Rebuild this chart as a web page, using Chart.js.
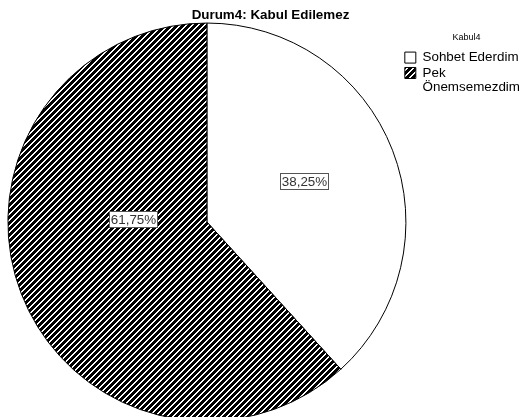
<!DOCTYPE html>
<html>
<head>
<meta charset="utf-8">
<script src="https://cdn.jsdelivr.net/npm/chart.js@4.4.1/dist/chart.umd.min.js"></script>
<style>
  html, body { margin: 0; padding: 0; background: #fff; overflow: hidden; }
  #wrap { width: 529px; height: 417px; overflow: hidden; }
  canvas { display: block; }
</style>
</head>
<body>
<div id="wrap"><canvas id="pieChart" width="540" height="421"></canvas></div>
<script>
const chartTitle = "Durum4: Kabul Edilemez";
const legendTitle = "Kabul4";
const categories = ["Sohbet Ederdim", "Pek Önemsemezdim"];
const percents = [38.25, 61.75];

const FONT = "Arial, 'Liberation Sans', sans-serif";

// black/white diagonal hatch, like the SPSS fill
function makeHatch() {
  const size = 6;
  const tile = document.createElement("canvas");
  tile.width = size;
  tile.height = size;
  const tctx = tile.getContext("2d");
  const img = tctx.createImageData(size, size);
  for (let y = 0; y < size; y++) {
    for (let x = 0; x < size; x++) {
      const v = (x + y) % size < 2 ? 255 : 0;
      const i = (y * size + x) * 4;
      img.data[i] = v;
      img.data[i + 1] = v;
      img.data[i + 2] = v;
      img.data[i + 3] = 255;
    }
  }
  tctx.putImageData(img, 0, 0);
  return tctx.createPattern(tile, "repeat");
}

// percent boxes inside the slices
const sliceLabels = {
  id: "sliceLabels",
  afterDatasetsDraw(chart, args, opts) {
    const ctx = chart.ctx;
    const meta = chart.getDatasetMeta(0);
    const values = chart.data.datasets[0].data;
    ctx.save();
    ctx.font = opts.font;
    ctx.textAlign = "center";
    ctx.textBaseline = "middle";
    meta.data.forEach((arc, i) => {
      const [shift, frac] = opts.place[i];
      const mid = (arc.startAngle + arc.endAngle) / 2 + shift * Math.PI / 180;
      const x = arc.x + Math.cos(mid) * arc.outerRadius * frac;
      const y = arc.y + Math.sin(mid) * arc.outerRadius * frac;
      const text = values[i].toFixed(2).replace(".", ",") + "%";
      const w = Math.round(ctx.measureText(text).width) + 3;
      const h = 16;
      const left = Math.round(x - w / 2) + 0.5;
      const top = Math.round(y - h / 2) + 0.5;
      ctx.fillStyle = "#fff";
      ctx.fillRect(left, top, w, h);
      ctx.strokeStyle = "#555";
      ctx.lineWidth = 1;
      ctx.strokeRect(left, top, w, h);
      ctx.fillStyle = "#333";
      ctx.fillText(text, left + w / 2, top + h / 2 + 0.5);
    });
    ctx.restore();
  },
};

new Chart(document.getElementById("pieChart"), {
  type: "pie",
  data: {
    labels: categories,
    datasets: [
      {
        data: percents,
        backgroundColor: ["#ffffff", makeHatch()],
        borderColor: "#000",
        borderWidth: 1,
        radius: 199,
      },
    ],
  },
  options: {
    responsive: false,
    animation: false,
    events: [],
    layout: { padding: { left: 11, right: 10, top: 0, bottom: 0 } },
    plugins: {
      title: {
        display: true,
        text: chartTitle,
        color: "#000",
        font: { family: FONT, size: 13.4, weight: "bold" },
        padding: { top: 7, bottom: 0 },
      },
      legend: {
        position: "right",
        align: "start",
        fullSize: false,
        title: {
          display: true,
          text: legendTitle,
          color: "#000",
          font: { family: FONT, size: 9 },
          padding: { top: 10, bottom: 5 },
        },
        labels: {
          color: "#000",
          boxWidth: 11,
          boxHeight: 11,
          padding: 2,
          font: { family: FONT, size: 13.4, lineHeight: 1.05 },
          generateLabels(chart) {
            const items = Chart.overrides.pie.plugins.legend.labels.generateLabels(chart);
            return items.map((it) => {
              if (it.text.length > 15) it.text = it.text.split(" ");
              return it;
            });
          },
        },
      },
      tooltip: { enabled: false },
      sliceLabels: {
        font: "13.4px " + FONT,
        place: [
          [-1.5, 0.53],
          [23.5, 0.37],
        ],
      },
    },
  },
  plugins: [sliceLabels],
});
</script>
</body>
</html>
